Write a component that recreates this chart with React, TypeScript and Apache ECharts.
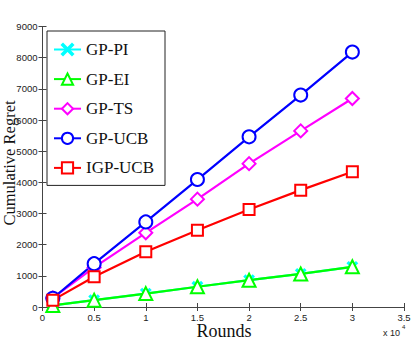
import React, { useEffect, useRef } from "react";
import * as echarts from "echarts";

const rounds = [0.1, 0.5, 1, 1.5, 2, 2.5, 3];
const gpPI = [50, 220, 430, 650, 860, 1060, 1290];
const gpEI = [50, 220, 430, 650, 860, 1060, 1290];
const gpTS = [290, 1270, 2380, 3460, 4600, 5650, 6690];
const gpUCB = [280, 1390, 2730, 4090, 5460, 6800, 8180];
const igpUCB = [220, 970, 1770, 2460, 3130, 3750, 4340];
const seriesNames = ["GP-PI", "GP-EI", "GP-TS", "GP-UCB", "IGP-UCB"];
const colors = ["#00ffff", "#00ff00", "#ff00ff", "#0000ff", "#ff0000"];

const xPath =
  "path://M0,1L1,0L5,4L9,0L10,1L6,5L10,9L9,10L5,6L1,10L0,9L4,5Z";

export default function App() {
  const ref = useRef<HTMLDivElement>(null);
  useEffect(() => {
    if (!ref.current) return;
    const chart = echarts.init(ref.current, null, { renderer: "svg" });
    const pairs = (ys: number[]) => rounds.map((x, i) => [x, ys[i]]);
    const datas = [gpPI, gpEI, gpTS, gpUCB, igpUCB];
    const symbols = [xPath, "emptyTriangle", "emptyDiamond", "emptyCircle", "emptyRect"];
    const sizes = [9, 13, 13, 13, 11];
    const axisCommon = {
      type: "value" as const,
      axisLine: { show: true, lineStyle: { color: "#444", width: 1 } },
      axisTick: { show: true, inside: true, length: 4, lineStyle: { color: "#444" } },
      splitLine: { show: false },
    };
    chart.setOption({
      animation: false,
      backgroundColor: "#fff",
      grid: { left: 42.5, right: 11, top: 26.5, bottom: 39, containLabel: false },
      legend: {
        orient: "vertical",
        left: 47,
        top: 31,
        padding: [10, 11, 9, 6],
        itemWidth: 27,
        itemHeight: 14,
        itemGap: 12.6,
        borderColor: "#222",
        borderWidth: 1,
        backgroundColor: "#fff",
        borderRadius: 0,
        textStyle: { fontFamily: "Liberation Serif", fontSize: 17, color: "#111" },
        data: seriesNames,
      },
      xAxis: [
        {
          ...axisCommon,
          min: 0,
          max: 3.5,
          interval: 0.5,
          position: "bottom",
          axisLabel: { fontFamily: "Liberation Sans", fontSize: 9.5, color: "#222", margin: 5 },
        },
        {
          ...axisCommon,
          min: 0,
          max: 3.5,
          interval: 0.5,
          position: "top",
          axisLabel: { show: false },
        },
      ],
      yAxis: [
        {
          ...axisCommon,
          min: 0,
          max: 9000,
          interval: 1000,
          position: "left",
          axisLabel: {
            fontFamily: "Liberation Sans",
            fontSize: 9.5,
            color: "#222",
            margin: 5,
            formatter: (v: number) => String(v),
          },
        },
        {
          ...axisCommon,
          min: 0,
          max: 9000,
          interval: 1000,
          position: "right",
          axisLabel: { show: false },
        },
      ],
      series: seriesNames.map((name, i) => ({
        name,
        type: "line",
        xAxisIndex: 0,
        yAxisIndex: 0,
        data: pairs(datas[i]),
        symbol: symbols[i],
        symbolSize: sizes[i],
        showAllSymbol: true,
        lineStyle: { color: colors[i], width: 2.2 },
        itemStyle: {
          color: colors[i],
          borderColor: colors[i],
          borderWidth: 2,
        },
        emphasis: { disabled: true },
      })),
      graphic: [
        {
          type: "text",
          x: 224,
          y: 322,
          style: {
            text: "Rounds",
            fontFamily: "Liberation Serif",
            fontSize: 18,
            fill: "#111",
            align: "center",
            verticalAlign: "top",
          },
        },
        {
          type: "text",
          x: 1,
          y: 163,
          rotation: Math.PI / 2,
          style: {
            text: "Cumulative Regret",
            fontFamily: "Liberation Serif",
            fontSize: 16.5,
            fill: "#111",
            align: "center",
            verticalAlign: "top",
          },
        },
        {
          type: "text",
          x: 383,
          y: 328,
          style: {
            text: "x 10",
            fontFamily: "Liberation Sans",
            fontSize: 9,
            fill: "#222",
          },
        },
        {
          type: "text",
          x: 402,
          y: 324,
          style: {
            text: "4",
            fontFamily: "Liberation Sans",
            fontSize: 6,
            fill: "#222",
          },
        },
      ],
    });
    return () => chart.dispose();
  }, []);
  return (
    <div
      ref={ref}
      style={{ position: "fixed", left: 0, top: 0, width: 415, height: 346 }}
    />
  );
}
